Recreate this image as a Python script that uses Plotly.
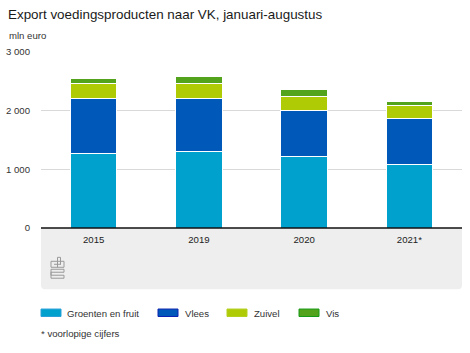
import plotly.graph_objects as go

years = ["2015", "2019", "2020", "2021*"]
groenten_fruit = [1270, 1300, 1220, 1080]
vlees = [940, 900, 780, 790]
zuivel = [245, 270, 250, 215]
vis = [95, 120, 110, 75]
names = ["Groenten en fruit", "Vlees", "Zuivel", "Vis"]
colors = ["#00a1cd", "#0058b8", "#afcb05", "#53a31d"]
edges = ["#2a9fd8", "#0a22b0", "#b5cf20", "#169a16"]
series = [groenten_fruit, vlees, zuivel, vis]
ytickvals = [0, 1000, 2000, 3000]
yticktext = ["0", "1 000", "2 000", "3 000"]

W, H = 470, 353
L, R, T, B = 41, 462, 51.5, 228.5
FONT = "Liberation Sans, Arial, sans-serif"


def px(x):
    return (x - L) / (R - L)


def py(y):
    return (B - y) / (B - T)


fig = go.Figure()
for name, vals, c, e in zip(names, series, colors, edges):
    fig.add_bar(x=years, y=vals, name=name, marker=dict(color=c, line=dict(color="white", width=1)), showlegend=False)

shapes = []
r = 4
x0, x1, y0, y1 = L, R, B, 290
path = (f"M {px(x0)} {py(y0)} L {px(x1)} {py(y0)} L {px(x1)} {py(y1-r)} "
        f"Q {px(x1)} {py(y1)} {px(x1-r)} {py(y1)} L {px(x0+r)} {py(y1)} "
        f"Q {px(x0)} {py(y1)} {px(x0)} {py(y1-r)} Z")
shapes.append(dict(type="path", path=path, xref="paper", yref="paper", fillcolor="#eeeeee", line_width=0, layer="below"))
shapes.append(dict(type="line", xref="paper", yref="paper", x0=0, x1=1, y0=0, y1=0, line=dict(color="#111111", width=1.3), layer="above"))
logo = [
    [(51, 262), (51, 268), (64, 268), (64, 262), (51, 262)],
    [(57.5, 258), (57.5, 268)],
    [(57.5, 258), (60.5, 258), (60.5, 265)],
    [(54, 265), (61, 265)],
    [(51, 270), (64, 270), (64, 273), (51, 273), (51, 276), (64, 276), (64, 279), (51, 279), (51, 270)],
]
for pts in logo:
    p = "M " + " L ".join(f"{px(a)} {py(b)}" for a, b in pts)
    shapes.append(dict(type="path", path=p, xref="paper", yref="paper", line=dict(color="#9a9a9a", width=1)))

annotations = [
    dict(text="Export voedingsproducten naar VK, januari-augustus", x=px(6), y=py(13.5), font=dict(size=13.4, color="#1a1a1a")),
    dict(text="mln euro", x=px(6.5), y=py(34.5), font=dict(size=9.6, color="#333333")),
    dict(text="* voorlopige cijfers", x=px(39), y=py(334.5), font=dict(size=9.6, color="#333333")),
]
leg_swatch = [41, 158, 227, 299]
leg_text = [65, 183, 252, 324]
for name, c, e, sx, tx in zip(names, colors, edges, leg_swatch, leg_text):
    shapes.append(dict(type="rect", xref="paper", yref="paper", x0=px(sx), x1=px(sx + 20), y0=py(310), y1=py(317.5), fillcolor=c, line=dict(color=e, width=1)))
    annotations.append(dict(text=name, x=px(tx), y=py(314), font=dict(size=9.6, color="#333333")))
for a in annotations:
    a.update(xref="paper", yref="paper", xanchor="left", yanchor="middle", showarrow=False)

fig.update_layout(
    width=W, height=H, autosize=False,
    barmode="stack", bargap=0.56,
    margin=dict(l=L, r=W - R, t=T, b=H - B),
    paper_bgcolor="white", plot_bgcolor="white",
    font=dict(family=FONT, size=9.6, color="#222222"),
    showlegend=False,
    shapes=shapes, annotations=annotations,
    xaxis=dict(type="category", automargin=False, showline=False, ticks="", ticklabelstandoff=4, tickfont=dict(size=9.6, color="#222222")),
    yaxis=dict(range=[0, 3000], automargin=False, tickvals=ytickvals, ticktext=yticktext, showgrid=True, gridcolor="#d9d9d9", gridwidth=1,
               zeroline=False, ticks="", tickfont=dict(size=9.6, color="#333333"), ticklabelstandoff=10),
)
fig.write_html("out.html", config={"displayModeBar": False},
               post_script="document.body.style.margin='0';document.documentElement.style.overflow='hidden';")
